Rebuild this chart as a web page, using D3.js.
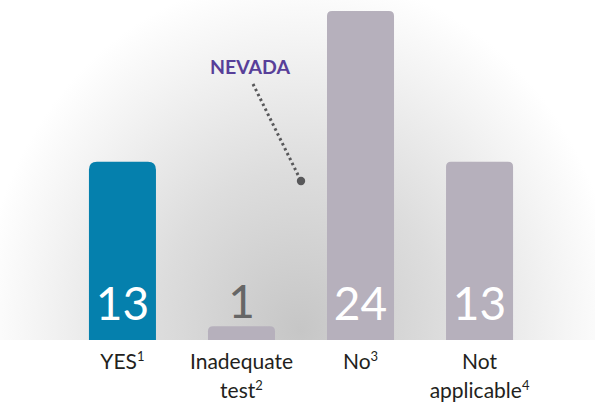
<!DOCTYPE html>
<html>
<head>
<meta charset="UTF-8">
<title>Nevada</title>
<style>
  body { margin: 0; background: #fff; }
</style>
</head>
<body>
<div class="graph"></div>
<script src="https://d3js.org/d3.v7.min.js"></script>
<script>
    var w = 595, h = 406;
    var base = 340;

    var categories = ["YES", "Inadequate test", "No", "Not applicable"];
    var labelLines = [["YES"], ["Inadequate", "test"], ["No"], ["Not", "applicable"]];
    var notes = ["1", "2", "3", "4"];
    var values = [13, 1, 24, 13];
    var colors = ["#0580ad", "#b6b0bc", "#b6b0bc", "#b6b0bc"];

    var svg = d3.select(".graph")
        .append("svg")
        .attr("width", w)
        .attr("height", h);

    // soft grey glow behind the bars
    var defs = svg.append("defs");
    var grad = defs.append("radialGradient")
        .attr("id", "glow")
        .attr("gradientUnits", "userSpaceOnUse")
        .attr("cx", 300).attr("cy", 330).attr("r", 330)
        .attr("gradientTransform", "translate(300,330) scale(0.97,1.08) translate(-300,-330)");
    grad.append("stop").attr("offset", "0%").attr("stop-color", "#c6c6c6");
    grad.append("stop").attr("offset", "45%").attr("stop-color", "#dddddd");
    grad.append("stop").attr("offset", "80%").attr("stop-color", "#f3f3f3");
    grad.append("stop").attr("offset", "100%").attr("stop-color", "#ffffff");

    svg.append("rect")
        .attr("x", 0).attr("y", 0)
        .attr("width", w).attr("height", base)
        .attr("fill", "url(#glow)");

    var x = d3.scaleBand()
        .domain(categories)
        .range([63, 539])
        .paddingInner(0.437)
        .paddingOuter(0.218);

    var y = d3.scaleLinear()
        .domain([0, 24])
        .range([base, 11]);

    function topRounded(x0, y0, bw, bh, r) {
        r = Math.min(r, bh, bw / 2);
        return "M" + x0 + "," + (y0 + bh) +
            "V" + (y0 + r) +
            "Q" + x0 + "," + y0 + " " + (x0 + r) + "," + y0 +
            "H" + (x0 + bw - r) +
            "Q" + (x0 + bw) + "," + y0 + " " + (x0 + bw) + "," + (y0 + r) +
            "V" + (y0 + bh) + "Z";
    }

    svg.selectAll("path.bar")
        .data(values)
        .enter()
        .append("path")
        .attr("class", "bar")
        .attr("fill", function(d, i) { return colors[i]; })
        .attr("d", function(d, i) {
            return topRounded(x(categories[i]), y(d), x.bandwidth(), base - y(d), i == 0 ? 8 : 5);
        });

    // big value numbers: inside the bar, or just above it when the bar is short
    function inside(d) { return y(d) < 270; }

    svg.selectAll("text.val")
        .data(values)
        .enter()
        .append("text")
        .attr("class", "val")
        .attr("x", function(d, i) { return x(categories[i]) + x.bandwidth() / 2; })
        .attr("y", function(d) { return inside(d) ? 320 : Math.min(320, y(d) - 8); })
        .attr("text-anchor", "middle")
        .attr("font-family", "Lato, 'Open Sans', sans-serif")
        .attr("font-weight", 400)
        .attr("font-size", 46)
        .attr("fill", function(d) { return inside(d) ? "#ffffff" : "#666666"; })
        .text(function(d) { return d; });

    // category labels with footnote marks
    var lab = svg.selectAll("text.cat")
        .data(categories)
        .enter()
        .append("text")
        .attr("class", "cat")
        .attr("text-anchor", "middle")
        .attr("font-family", "Lato, 'Open Sans', sans-serif")
        .attr("font-size", 21)
        .attr("fill", "#231f20");

    lab.each(function(c, i) {
        var t = d3.select(this);
        var lines = labelLines[i];
        var cx = x(c) + x.bandwidth() / 2;
        lines.forEach(function(line, j) {
            t.append("tspan")
                .attr("x", cx)
                .attr("y", 369 + j * 29)
                .text(line);
            if (j == lines.length - 1) {
                t.append("tspan")
                    .attr("dy", -8)
                    .attr("font-size", 13)
                    .text(notes[i]);
            }
        });
    });

    // Nevada annotation
    var nx = (x("Inadequate test") + x("No") + x.bandwidth()) / 2;
    var dot = [nx, y(11.6)];
    var start = [253, 84];

    svg.append("text")
        .attr("x", 250)
        .attr("y", 74)
        .attr("text-anchor", "middle")
        .attr("font-family", "Lato, 'Open Sans', sans-serif")
        .attr("font-weight", 700)
        .attr("font-size", 19.5)
        .attr("fill", "#583f99")
        .text("NEVADA");

    svg.append("line")
        .attr("x1", start[0]).attr("y1", start[1])
        .attr("x2", dot[0]).attr("y2", dot[1])
        .attr("stroke", "#58585a")
        .attr("stroke-width", 3)
        .attr("stroke-dasharray", "2.5,3");

    svg.append("circle")
        .attr("cx", dot[0]).attr("cy", dot[1])
        .attr("r", 4.2)
        .attr("fill", "#58585a");
</script>
</body>
</html>
